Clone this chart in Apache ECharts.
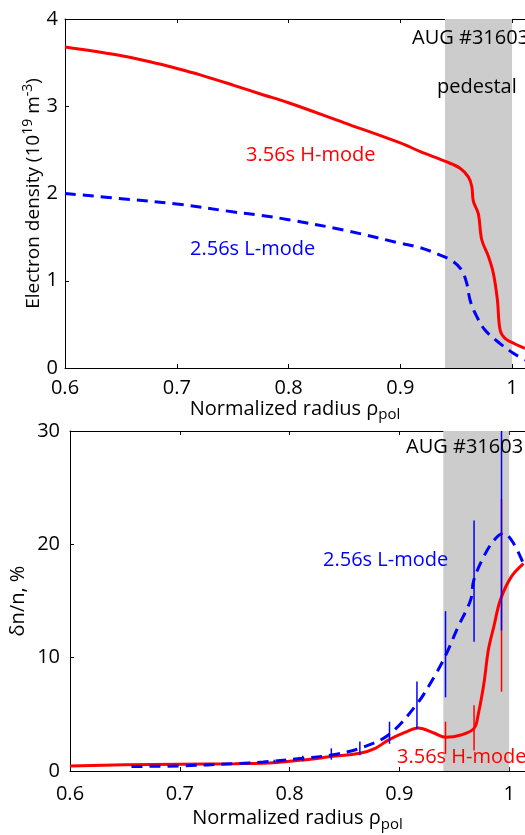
<!DOCTYPE html>
<html>
<head>
<meta charset="utf-8">
<script src="https://cdn.jsdelivr.net/npm/echarts@6/dist/echarts.min.js"></script>
<style>
html, body { margin: 0; padding: 0; background: #fff; }
#main { width: 525px; height: 835px; }
</style>
</head>
<body>
<div id="main"></div>
<script>
// ---- top panel: electron density profiles ----
var denH_x = [0.6, 0.646, 0.676, 0.701, 0.721, 0.751, 0.775, 0.8, 0.85, 0.9, 0.918, 0.941, 0.9535, 0.9609, 0.964, 0.9654, 0.9698, 0.9729, 0.9788, 0.9833, 0.9869, 0.9893, 0.9937, 1.0027, 1.0116];
var denH_y = [3.68, 3.59, 3.51, 3.43, 3.36, 3.24, 3.14, 3.04, 2.81, 2.58, 2.48, 2.365, 2.29, 2.19, 2.08, 1.91, 1.77, 1.47, 1.28, 1.085, 0.78, 0.435, 0.34, 0.275, 0.225];
var denL_x = [0.6, 0.66, 0.7, 0.75, 0.775, 0.8, 0.85, 0.9, 0.9177, 0.9356, 0.9475, 0.955, 0.9595, 0.9624, 0.9669, 0.9758, 0.9893, 1.0012, 1.0116];
var denL_y = [2.0, 1.93, 1.88, 1.79, 1.75, 1.70, 1.58, 1.43, 1.38, 1.295, 1.22, 1.12, 0.97, 0.78, 0.63, 0.435, 0.28, 0.17, 0.09];

// ---- bottom panel: density fluctuation level ----
var flH_x = [0.6, 0.65, 0.7, 0.75, 0.776, 0.812, 0.838, 0.864, 0.878, 0.89, 0.905, 0.917, 0.932, 0.942, 0.956, 0.968, 0.972, 0.977, 0.981, 0.986, 0.992, 1.002, 1.013];
var flH_y = [0.44, 0.55, 0.6, 0.65, 0.68, 0.97, 1.27, 1.56, 2.0, 2.73, 3.4, 3.8, 3.33, 2.97, 3.18, 3.76, 5.09, 7.74, 10.68, 12.74, 15.1, 17.15, 18.3];
var flL_x = [0.656, 0.7, 0.75, 0.776, 0.812, 0.838, 0.864, 0.89, 0.9153, 0.9318, 0.9423, 0.9529, 0.9649, 0.9678, 0.9784, 0.9874, 0.9949, 1.0039, 1.0129];
var flL_y = [0.4, 0.45, 0.65, 0.8, 1.12, 1.41, 2.0, 3.18, 5.82, 8.32, 10.24, 12.6, 15.1, 16.86, 19.2, 20.5, 20.98, 20.1, 18.3];

// error bars (x, low, high)
var errL_x = [0.786, 0.812, 0.838, 0.864, 0.891, 0.916, 0.942, 0.968, 0.993];
var errL_lo = [0.7, 0.85, 1.0, 1.4, 2.4, 3.7, 6.5, 11.4, 12.4];
var errL_hi = [1.0, 1.35, 2.0, 2.6, 4.35, 7.9, 14.1, 22.1, 30];
var errH_x = [0.942, 0.968, 0.993];
var errH_lo = [1.5, 1.8, 7.0];
var errH_hi = [4.35, 5.8, 24];

var pedestal = [0.94, 1.0];

var xMin = 0.6, xStep = 0.1;
var topXMax = 1.0116, botXMax = 1.0144;   // the frame is cut at the right edge
var topY = [0, 4, 1];
var botY = [0, 30, 10];

var FONT = '"Open Sans", sans-serif';
var RED = '#ff0000', BLUE = '#0000ff';

function zip(xs, ys) {
    return xs.map(function (x, i) { return [x, ys[i]]; });
}
function zip3(xs, lo, hi) {
    return xs.map(function (x, i) { return [x, lo[i], hi[i]]; });
}

function xAxisFor(grid, pos, max, nameGap, margin) {
    var base = {
        type: 'value', gridIndex: grid, position: pos,
        min: xMin, max: max, interval: xStep,
        axisLine: { show: true, lineStyle: { color: '#000', width: 1 } },
        axisTick: { show: true, inside: true, length: 4, lineStyle: { color: '#000' } },
        splitLine: { show: false },
        axisLabel: {
            show: pos === 'bottom', color: '#000', fontSize: 20, fontFamily: FONT, margin: margin,
            showMaxLabel: false,
            formatter: function (v) { return Math.abs(v - 1) < 1e-9 ? '1' : v.toFixed(1); }
        }
    };
    if (pos === 'bottom') {
        base.name = '{a|Normalized radius ρ}{sub|pol}';
        base.nameLocation = 'middle';
        base.nameGap = nameGap;
        base.nameTextStyle = {
            rich: {
                a: { fontSize: 20, fontFamily: FONT, color: '#000' },
                sub: { fontSize: 15, fontFamily: FONT, color: '#000', padding: [12, 0, 0, 0] }
            }
        };
    }
    return base;
}

function yAxisFor(grid, rng, name, nameGap, rich, margin) {
    return {
        type: 'value', gridIndex: grid,
        min: rng[0], max: rng[1], interval: rng[2],
        name: name, nameLocation: 'middle', nameGap: nameGap, nameRotate: 90,
        nameMoveOverlap: false,
        nameTextStyle: { rich: rich },
        axisLine: { show: true, lineStyle: { color: '#000', width: 1 } },
        axisTick: { show: true, inside: true, length: 4, lineStyle: { color: '#000' } },
        splitLine: { show: false },
        axisLabel: { color: '#000', fontSize: 20, fontFamily: FONT, margin: margin }
    };
}

function errSeries(name, xi, yi, data, color) {
    return {
        name: name, type: 'custom', xAxisIndex: xi, yAxisIndex: yi, z: 4,
        data: data,
        renderItem: function (params, api) {
            var a = api.coord([api.value(0), api.value(1)]);
            var b = api.coord([api.value(0), api.value(2)]);
            return {
                type: 'line',
                shape: { x1: a[0], y1: a[1], x2: b[0], y2: b[1] },
                style: { stroke: color, lineWidth: 1.5 }
            };
        },
        clip: true
    };
}

function shade(xi, yi) {
    return {
        type: 'line', xAxisIndex: xi, yAxisIndex: yi, data: [], z: 1, silent: true,
        markArea: {
            silent: true,
            itemStyle: { color: '#cccccc' },
            data: [[{ xAxis: pedestal[0] }, { xAxis: pedestal[1] }]]
        }
    };
}

function curve(xi, yi, data, color, dashed) {
    return {
        type: 'line', xAxisIndex: xi, yAxisIndex: yi, data: data, z: dashed ? 3 : 2,
        showSymbol: false, smooth: 0.35, clip: true,
        lineStyle: { color: color, width: 3, type: dashed ? [11, 7] : 'solid' }
    };
}

var chart = echarts.init(document.getElementById('main'));

var txt = function (x, y, s, color) {
    return {
        type: 'text', left: x, top: y, z: 10,
        style: { text: s, fill: color, font: '20px ' + FONT }
    };
};

chart.setOption({
    animation: false,
    backgroundColor: '#fff',
    grid: [
        { left: 65, top: 19, right: 0, height: 349 },
        { left: 65, top: 431, right: 0, height: 340 }
    ],
    xAxis: [
        xAxisFor(0, 'bottom', topXMax, 25, 10),
        xAxisFor(0, 'top', topXMax),
        xAxisFor(1, 'bottom', botXMax, 34, 13),
        xAxisFor(1, 'top', botXMax)
    ],
    yAxis: [
        yAxisFor(0, topY, '{a|Electron density (10}{sup|19}{a| m}{sup|-3}{a|)}', 19, {
            a: { fontSize: 19, fontFamily: FONT, color: '#000' },
            sup: { fontSize: 14, fontFamily: FONT, color: '#000', padding: [0, 0, 11, 0] }
        }, 7),
        yAxisFor(1, botY, '{a|δn/n, %}', 42, {
            a: { fontSize: 20, fontFamily: FONT, color: '#000' }
        }, 10)
    ],
    series: [
        shade(0, 0),
        curve(0, 0, zip(denH_x, denH_y), RED, false),
        curve(0, 0, zip(denL_x, denL_y), BLUE, true),
        shade(2, 1),
        curve(2, 1, zip(flH_x, flH_y), RED, false),
        errSeries('errH', 2, 1, zip3(errH_x, errH_lo, errH_hi), RED),
        curve(2, 1, zip(flL_x, flL_y), BLUE, true),
        errSeries('errL', 2, 1, zip3(errL_x, errL_lo, errL_hi), BLUE)
    ],
    graphic: [
        txt(412, 28, 'AUG #31603', '#000'),
        txt(437, 77, 'pedestal', '#000'),
        txt(246, 145, '3.56s H-mode', RED),
        txt(190, 239, '2.56s L-mode', BLUE),
        txt(406, 437, 'AUG #31603', '#000'),
        txt(323, 550, '2.56s L-mode', BLUE),
        txt(397, 747, '3.56s H-mode', RED)
    ]
});
</script>
</body>
</html>
